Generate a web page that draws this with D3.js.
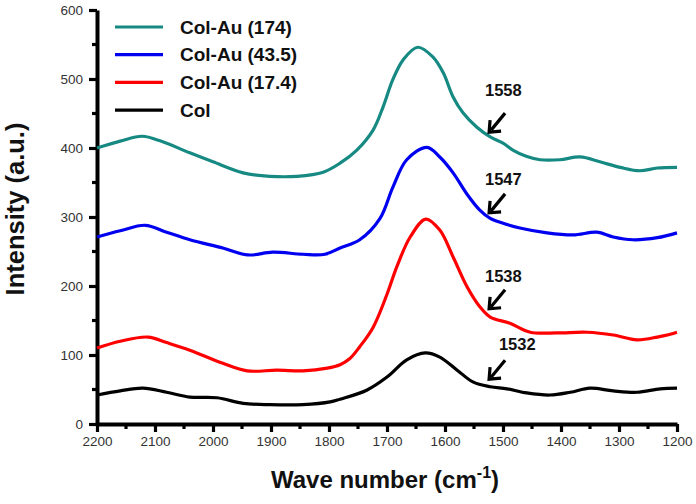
<!DOCTYPE html>
<html><head><meta charset="utf-8">
<script src="https://cdn.jsdelivr.net/npm/d3@7"></script>
<style>body{margin:0;background:#fff}svg{display:block}</style>
</head><body>
<script>
// Data (wave number cm^-1, intensity a.u.)
const seriesNames = ["Col-Au (174)", "Col-Au (43.5)", "Col-Au (17.4)", "Col"];
const seriesColors = ["#168a82", "#0000f0", "#ff0000", "#000000"];
const au174 = [[2200,400],[2160,410],[2122,417],[2090,410],[2040,393],[2000,380],[1948,364],[1902,359],[1855,359],[1810,365],[1781,378],[1752,397],[1724,426],[1707,459],[1690,499],[1672,528],[1647,546],[1621,532],[1603,509],[1586,474],[1569,451],[1545,430],[1522,416],[1500,407],[1483,397],[1460,388],[1436,383],[1402,383],[1367,387],[1333,380],[1298,372],[1264,367],[1234,371],[1200,372]];
const au435 = [[2200,271],[2160,280],[2117,288],[2080,278],[2040,267],[1983,255],[1940,245],[1897,249],[1845,246],[1807,246],[1781,255],[1747,267],[1712,298],[1690,343],[1666,383],[1631,401],[1609,387],[1586,364],[1562,333],[1540,310],[1522,298],[1500,291],[1471,284],[1424,277],[1379,274],[1338,278],[1310,271],[1276,267],[1234,270],[1200,277]];
const au174b = [[2200,110],[2160,120],[2112,126],[2080,118],[2040,107],[1983,88],[1941,77],[1890,78],[1845,77],[1803,81],[1781,86],[1764,95],[1747,112],[1724,140],[1700,188],[1683,228],[1660,271],[1633,297],[1609,281],[1586,242],[1562,199],[1540,170],[1522,155],[1488,146],[1453,133],[1407,132],[1355,133],[1310,129],[1269,122],[1234,126],[1200,133]];
const col = [[2200,42],[2160,48],[2121,52],[2080,46],[2040,39],[1993,38],[1948,30],[1902,28],[1845,28],[1798,32],[1781,36],[1735,49],[1700,68],[1666,93],[1634,103],[1609,97],[1579,78],[1552,61],[1522,54],[1493,51],[1459,45],[1419,42],[1384,46],[1350,52],[1310,48],[1269,46],[1229,51],[1200,52]];
const seriesData = [au174, au435, au174b, col];
const xTicks = [2200,2100,2000,1900,1800,1700,1600,1500,1400,1300,1200];
const yTicks = [0,100,200,300,400,500,600];
const annLabels = ["1558","1547","1538","1532"];
const annTipX = [1524,1524,1524,1524];
const annTipY = [423,306,167,65];
const annTextX = [1531,1531,1531,1507];
const annTextY = [475,346,206,107];

const W = 696, H = 504;
const FONT = "Liberation Sans, Arial, sans-serif";
const svg = d3.select("body").append("svg").attr("width", W).attr("height", H);
const x = d3.scaleLinear().domain([2200,1200]).range([97,677]);
const y = d3.scaleLinear().domain([0,600]).range([424,10]);

const xAxis = svg.append("g").attr("transform","translate(0,424)")
  .call(d3.axisBottom(x).tickValues(xTicks).tickFormat(d3.format("d")).tickSize(8).tickSizeOuter(0).tickPadding(4));
const yAxis = svg.append("g").attr("transform","translate(97,0)")
  .call(d3.axisLeft(y).tickValues(yTicks).tickFormat(d3.format("d")).tickSize(8).tickSizeOuter(0).tickPadding(6));
[xAxis,yAxis].forEach(a=>{
  a.select(".domain").attr("stroke","#000").attr("stroke-width",4);
  a.selectAll(".tick line").attr("stroke","#000").attr("stroke-width",3.2);
  a.selectAll(".tick text").attr("font-family",FONT)
    .attr("font-size",13.5).attr("fill","#333");
});
// minor ticks
const xMinor = d3.range(2150,1200,-100);
svg.append("g").selectAll("line").data(xMinor).join("line")
  .attr("x1", d=>x(d)).attr("x2", d=>x(d)).attr("y1",424).attr("y2",429)
  .attr("stroke","#000").attr("stroke-width",3.2);
const yMinor = d3.range(50,600,100);
svg.append("g").selectAll("line").data(yMinor).join("line")
  .attr("y1", d=>y(d)).attr("y2", d=>y(d)).attr("x1",97).attr("x2",92)
  .attr("stroke","#000").attr("stroke-width",3.2);

// lines
const line = d3.line().x(d=>x(d[0])).y(d=>y(d[1])).curve(d3.curveCatmullRom.alpha(0.5));
svg.append("g").selectAll("path").data(seriesData).join("path")
  .attr("d", line).attr("fill","none")
  .attr("stroke",(d,i)=>seriesColors[i]).attr("stroke-width",3.2)
  .attr("stroke-linejoin","round");

// legend
const leg = svg.append("g");
seriesNames.forEach((n,i)=>{
  const yy = 27 + i*27.7;
  leg.append("line").attr("x1",115).attr("x2",163).attr("y1",yy).attr("y2",yy)
    .attr("stroke",seriesColors[i]).attr("stroke-width",3.2);
  leg.append("text").attr("x",180).attr("y",yy+6.5).text(n)
    .attr("font-family",FONT).attr("font-weight","bold")
    .attr("font-size",19).attr("fill","#111");
});

// annotations
const ann = svg.append("g");
annLabels.forEach((t,i)=>{
  const ax = x(annTipX[i]), ay = y(annTipY[i]);
  ann.append("text").attr("x",x(annTextX[i])).attr("y",y(annTextY[i])).text(t)
    .attr("font-family",FONT).attr("font-weight","bold")
    .attr("font-size",16.5).attr("fill","#111");
  ann.append("line").attr("x1",ax+16).attr("y1",ay-19).attr("x2",ax+2).attr("y2",ay-2)
    .attr("stroke","#000").attr("stroke-width",3.2);
  ann.append("polyline").attr("points",`${ax+1},${ay-12} ${ax},${ay} ${ax+12},${ay-1}`)
    .attr("fill","none").attr("stroke","#000").attr("stroke-width",3.2);
});

// axis titles
svg.append("text").attr("x",385).attr("y",488).attr("text-anchor","middle")
  .attr("font-family",FONT).attr("font-weight","bold")
  .attr("font-size",24).attr("fill","#111")
  .call(t=>{ t.append("tspan").text("Wave number (cm");
             t.append("tspan").attr("dy",-10).attr("font-size",16).text("-1");
             t.append("tspan").attr("dy",10).text(")"); });
svg.append("text").attr("transform","translate(15,209) rotate(-90)").attr("text-anchor","middle")
  .attr("dy","0.35em")
  .attr("font-family",FONT).attr("font-weight","bold")
  .attr("font-size",25.5).attr("fill","#111").text("Intensity (a.u.)");
</script>
</body></html>
